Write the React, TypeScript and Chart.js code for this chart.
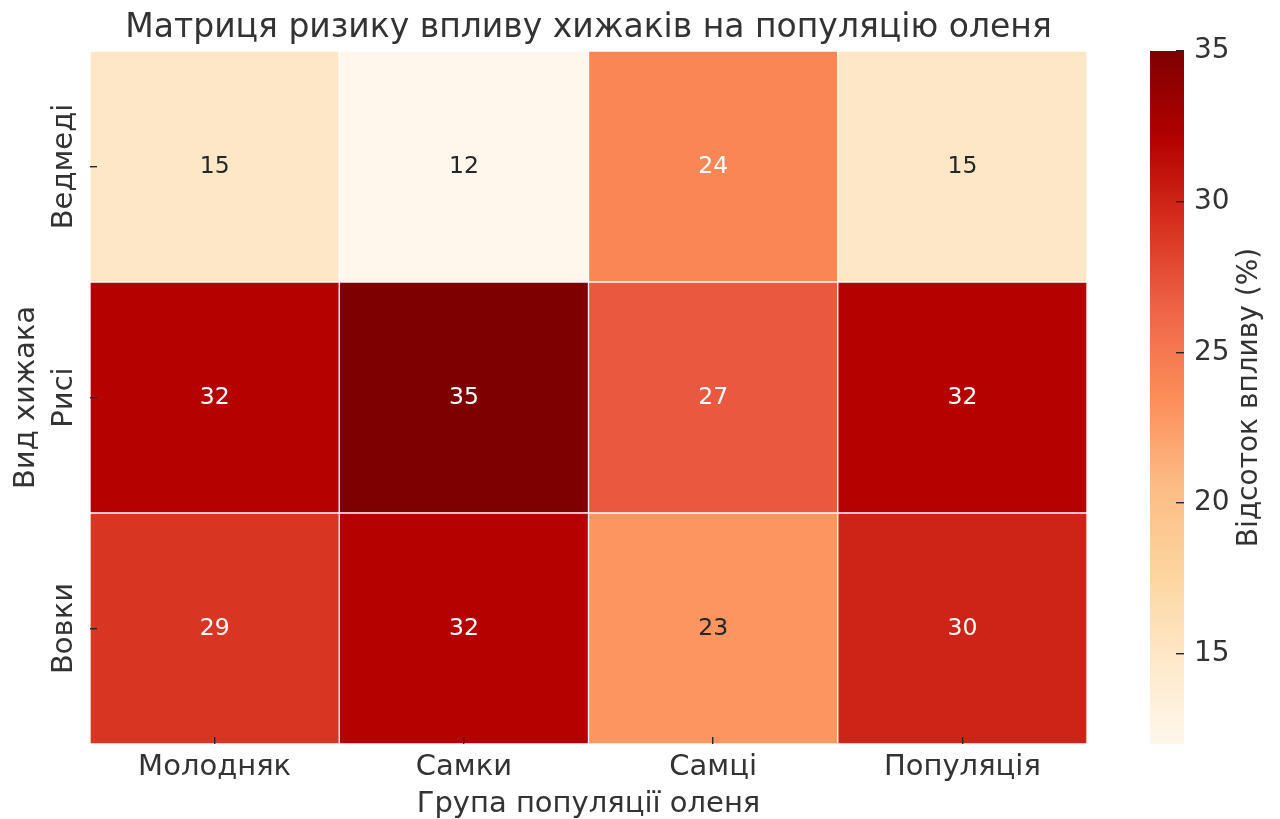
import React, { useEffect, useRef } from "react";
import { Chart, registerables } from "chart.js";

Chart.register(...registerables);

const columns = ["Молодняк", "Самки", "Самці", "Популяція"];
const rowsTopToBottom = ["Ведмеді", "Рисі", "Вовки"];
const bearsValues = [15, 12, 24, 15];
const lynxValues = [32, 35, 27, 32];
const wolvesValues = [29, 32, 23, 30];
const colorbarTicks = [15, 20, 25, 30, 35];
const colorMin = 12;
const colorMax = 35;

const titleText = "Матриця ризику впливу хижаків на популяцію оленя";
const xTitle = "Група популяції оленя";
const yTitle = "Вид хижака";
const cbTitle = "Відсоток впливу (%)";

const FONT = '"DejaVu Sans", sans-serif';
const TEXT = "#333333";

const ORRD = [
  "#fff7ec", "#fee8c8", "#fdd49e", "#fdbb84", "#fc8d59",
  "#ef6548", "#d7301f", "#b30000", "#7f0000",
];

function hexToRgb(h: string) {
  return [parseInt(h.slice(1, 3), 16), parseInt(h.slice(3, 5), 16), parseInt(h.slice(5, 7), 16)];
}

function colorFor(v: number) {
  let t = (v - colorMin) / (colorMax - colorMin);
  t = Math.max(0, Math.min(1, t));
  const pos = t * (ORRD.length - 1);
  const i = Math.min(ORRD.length - 2, Math.floor(pos));
  const f = pos - i;
  const a = hexToRgb(ORRD[i]);
  const b = hexToRgb(ORRD[i + 1]);
  return a.map((x, k) => Math.round(x + (b[k] - x) * f));
}

function rgbStr(c: number[]) {
  return `rgb(${c[0]},${c[1]},${c[2]})`;
}

function luminance(c: number[]) {
  const l = c.map((x) => {
    const s = x / 255;
    return s <= 0.03928 ? s / 12.92 : Math.pow((s + 0.055) / 1.055, 2.4);
  });
  return 0.2126 * l[0] + 0.7152 * l[1] + 0.0722 * l[2];
}

// bottom-to-top stacking order
const stackRows = [
  { label: "Вовки", values: wolvesValues },
  { label: "Рисі", values: lynxValues },
  { label: "Ведмеді", values: bearsValues },
];

const TICK_FONT = 29;
const TITLE_FONT = 33;
const AXIS_TITLE_FONT = 29;
const CB_TITLE_FONT = 28;
const ANNOT_FONT = 23.5;
const CB_TICK_FONT = 28;
const MARK = "#262626";

export default function App() {
  const mainRef = useRef<HTMLCanvasElement>(null);
  const cbRef = useRef<HTMLCanvasElement>(null);

  useEffect(() => {
    const mc = document.createElement("canvas").getContext("2d")!;
    mc.font = `${TICK_FONT}px ${FONT}`;
    const widest = Math.max(...rowsTopToBottom.map((r) => mc.measureText(r).width));
    const yTickPadding = 90 + 7 - 64 - widest / 2;

    const annotPlugin = {
      id: "annot",
      afterDatasetsDraw(chart: any) {
        const ctx = chart.ctx;
        ctx.save();
        ctx.font = `${ANNOT_FONT}px ${FONT}`;
        ctx.textAlign = "center";
        ctx.textBaseline = "middle";
        chart.data.datasets.forEach((ds: any, di: number) => {
          const meta = chart.getDatasetMeta(di);
          meta.data.forEach((el: any, i: number) => {
            const v = stackRows[di].values[i];
            const c = colorFor(v);
            ctx.fillStyle = luminance(c) > 0.408 ? "#262626" : "#ffffff";
            ctx.fillText(String(v), el.x, (el.y + el.base) / 2);
          });
        });
        ctx.restore();
      },
    };

    const main = new Chart(mainRef.current!, {
      type: "bar",
      data: {
        labels: columns,
        datasets: stackRows.map((r) => ({
          label: r.label,
          data: r.values.map(() => 1),
          backgroundColor: r.values.map((v) => rgbStr(colorFor(v))),
          borderColor: "#ffffff",
          borderWidth: 1,
          borderSkipped: false,
          barPercentage: 1,
          categoryPercentage: 1,
        })),
      },
      options: {
        animation: false,
        responsive: false,
        devicePixelRatio: 1,
        events: [],
        layout: { padding: { left: 0, right: 53, top: 0, bottom: 0 } },
        plugins: {
          legend: { display: false },
          tooltip: { enabled: false },
          title: {
            display: true,
            text: titleText,
            fullSize: false,
            color: TEXT,
            font: { family: FONT, size: TITLE_FONT, weight: "normal" },
            padding: { top: 8.2, bottom: 3.2 },
          },
        },
        scales: {
          x: {
            stacked: true,
            border: { display: false },
            grid: {
              display: true,
              offset: false,
              drawOnChartArea: false,
              drawTicks: true,
              tickLength: -7,
              color: MARK,
              lineWidth: 1.4,
              z: 1,
            },
            ticks: {
              color: TEXT,
              font: { family: FONT, size: TICK_FONT },
              padding: 13,
              maxRotation: 0,
              minRotation: 0,
            },
            title: {
              display: true,
              text: xTitle,
              color: TEXT,
              font: { family: FONT, size: AXIS_TITLE_FONT },
              padding: { top: 0, bottom: -3 },
            },
            afterFit(scale: any) {
              scale.height = 75;
            },
          },
          y: {
            stacked: true,
            min: 0,
            max: 3,
            border: { display: false },
            grid: {
              display: true,
              drawOnChartArea: false,
              drawTicks: true,
              tickLength: -7,
              color: MARK,
              lineWidth: 1.4,
              z: 1,
            },
            afterBuildTicks(scale: any) {
              scale.ticks = [0.5, 1.5, 2.5].map((v) => ({ value: v }));
            },
            ticks: {
              color: TEXT,
              font: { family: FONT, size: TICK_FONT },
              minRotation: 90,
              maxRotation: 90,
              crossAlign: "center",
              padding: yTickPadding,
              callback: (value: any) => rowsTopToBottom[2 - Math.floor(Number(value))],
            },
            title: {
              display: true,
              text: yTitle,
              color: TEXT,
              font: { family: FONT, size: AXIS_TITLE_FONT },
              padding: { top: 8.6, bottom: 0 },
            },
            afterFit(scale: any) {
              scale.width = 90;
            },
          },
        },
      },
      plugins: [annotPlugin],
    } as any);

    const cbLabelPlugin = {
      id: "cbLabel",
      afterDraw(chart: any) {
        const ctx = chart.ctx;
        const area = chart.chartArea;
        ctx.save();
        ctx.translate(110, (area.top + area.bottom) / 2);
        ctx.rotate(-Math.PI / 2);
        ctx.font = `${CB_TITLE_FONT}px ${FONT}`;
        ctx.fillStyle = TEXT;
        ctx.textAlign = "center";
        ctx.textBaseline = "middle";
        ctx.fillText(cbTitle, 0, 0);
        ctx.restore();
      },
    };

    const cb = new Chart(cbRef.current!, {
      type: "bar",
      data: {
        labels: ["cb"],
        datasets: [
          {
            data: [[colorMin, colorMax]],
            backgroundColor: (c: any) => {
              const area = c.chart.chartArea;
              if (!area) return "transparent";
              const g = c.chart.ctx.createLinearGradient(0, area.bottom, 0, area.top);
              ORRD.forEach((col, k) => g.addColorStop(k / (ORRD.length - 1), col));
              return g;
            },
            borderWidth: 0,
            barPercentage: 1,
            categoryPercentage: 1,
          },
        ],
      },
      options: {
        animation: false,
        responsive: false,
        devicePixelRatio: 1,
        events: [],
        layout: { padding: { left: 10, right: 0, top: 51, bottom: 75 } },
        plugins: { legend: { display: false }, tooltip: { enabled: false }, title: { display: false } },
        scales: {
          x: { display: false },
          y: {
            position: "right",
            min: colorMin,
            max: colorMax,
            border: { display: false },
            grid: {
              display: true,
              drawOnChartArea: false,
              drawTicks: true,
              tickLength: -8,
              color: MARK,
              lineWidth: 1.4,
              z: 1,
            },
            afterBuildTicks(scale: any) {
              scale.ticks = colorbarTicks.map((v) => ({ value: v }));
            },
            ticks: {
              color: TEXT,
              font: { family: FONT, size: CB_TICK_FONT },
              padding: 18,
            },
            afterFit(scale: any) {
              scale.width = 96;
            },
          },
        },
      },
      plugins: [cbLabelPlugin],
    } as any);

    return () => {
      main.destroy();
      cb.destroy();
    };
  }, []);

  return (
    <div style={{ position: "absolute", left: 0, top: 0, width: 1280, height: 819, background: "#ffffff" }}>
      <canvas
        ref={mainRef}
        width={1140}
        height={819}
        style={{ position: "absolute", left: 0, top: 0, width: 1140, height: 819 }}
      />
      <canvas
        ref={cbRef}
        width={140}
        height={819}
        style={{ position: "absolute", left: 1140, top: 0, width: 140, height: 819 }}
      />
    </div>
  );
}
